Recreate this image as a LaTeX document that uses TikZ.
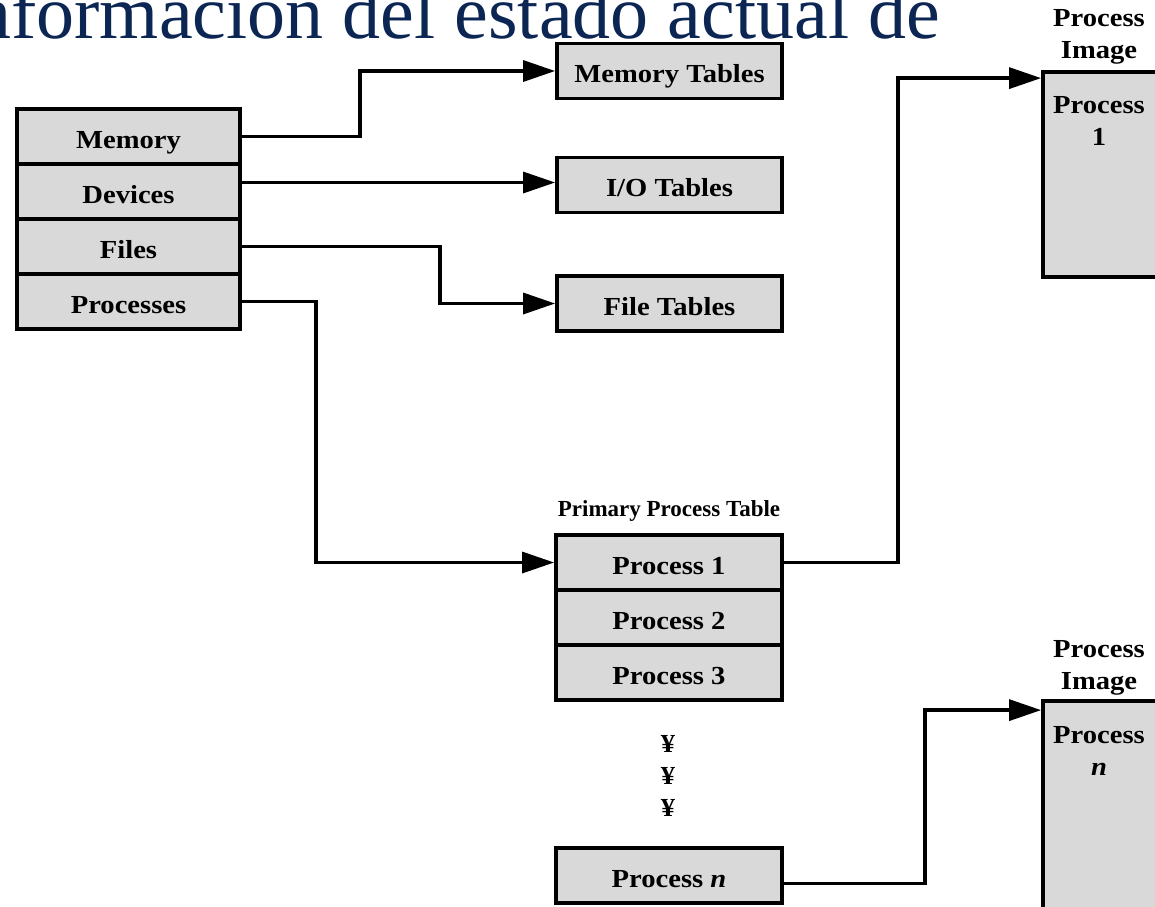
\documentclass[tikz,border=0pt]{standalone}
\usepackage{fontspec}
\setmainfont{Liberation Serif}
\newfontfamily\lblfont[FakeStretch=1.1]{Liberation Serif}
\usetikzlibrary{arrows.meta}
\definecolor{boxgray}{RGB}{217,217,217}
\definecolor{titleblue}{RGB}{12,38,84}
\begin{document}
\begin{tikzpicture}[x=1pt,y=-1pt,
  txt/.style={font=\lblfont\bfseries\fontsize{26}{32}\selectfont, align=center, inner sep=0pt},
  cell/.style={txt, draw=black, line width=3.8pt, fill=boxgray, minimum height=55pt,
               text height=25pt, text depth=2pt},
  tablebox/.style={cell, minimum width=225pt},
  leftcell/.style={cell, minimum width=223pt},
  imgbox/.style={draw=black, line width=3.8pt, fill=boxgray, minimum width=122pt},
  wire/.style={line width=3.3pt},
  conn/.style={wire, -{Triangle[length=32pt,width=21pt]}}
]
\useasboundingbox (0,0) rectangle (1155,906);
\clip (0,0) rectangle (1155,906);

% heading line, partly above the page
\node[anchor=base east, text=titleblue, inner sep=0pt,
      font=\fontsize{76}{76}\selectfont] (title) at (940,38) {información del estado actual de};

% system resources
\node[leftcell] (mem) at (128.5,136.5) {Memory};
\node[leftcell] (dev) at (128.5,191.5) {Devices};
\node[leftcell] (fil) at (128.5,246.5) {Files};
\node[leftcell] (pro) at (128.5,301.5) {Processes};

% control tables
\node[tablebox] (memt) at (669.5,71) {Memory Tables};
\node[tablebox] (iot)  at (669.5,185) {I/O Tables};
\node[tablebox] (filt) at (669.5,303.5) {File Tables};

% primary process table
\node[txt, font=\bfseries\fontsize{23}{28}\selectfont] (pptl) at (669,511) {Primary Process Table};
\node[tablebox, minimum width=226pt] (p1) at (669,562.5) {Process 1};
\node[tablebox, minimum width=226pt] (p2) at (669,617.5) {Process 2};
\node[tablebox, minimum width=226pt] (p3) at (669,672.5) {Process 3};
\node[txt] (dots) at (668,776) {¥\\¥\\¥};
\node[tablebox, minimum width=226pt] (pn) at (669,875.5) {Process \textit{n}};

% process images
\node[txt] (pi1l) at (1099,37) {Process\\Image};
\node[imgbox, minimum height=205pt] (img1) at (1104,174.5) {};
\node[txt] (pi1t) at (1099,121) {Process\\1};
\node[txt] (pi2l) at (1099,668) {Process\\Image};
\node[imgbox, minimum height=214pt] (img2) at (1104,808) {};
\node[txt] (pi2t) at (1099,751) {Process\\\textit{n}};

\coordinate (devout) at ([yshift=9pt]dev.east);
\coordinate (pnout) at ([yshift=-8pt]pn.east);
\coordinate (in1) at ([yshift=-8pt]img1.north west);
\coordinate (in2) at ([yshift=-11pt]img2.north west);

% connectors
\draw[conn] (mem.east) -- ++(118,0) |- (memt.west);
\draw[conn] (devout) -- (devout -| iot.west);
\draw[conn] (fil.east) -- ++(198,0) |- (filt.west);
\draw[conn] (pro.east) -- ++(74,0) |- (p1.west);
\draw[conn] (p1.east) -- ++(114,0) |- (in1);
\draw[conn] (pnout) -- ++(141,0) |- (in2);
\end{tikzpicture}
\end{document}
